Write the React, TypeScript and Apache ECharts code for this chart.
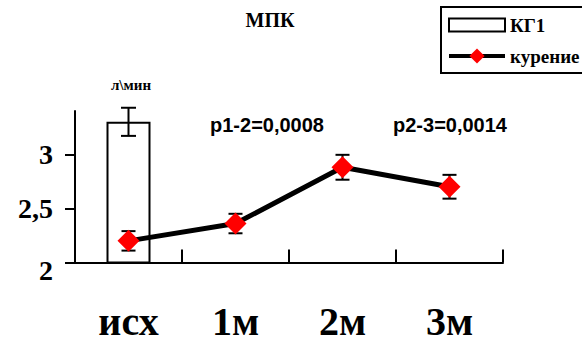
import React, { useEffect, useRef } from "react";
import * as echarts from "echarts";

const categories = ["исх", "1м", "2м", "3м"];
const kg1Values = [3.3, null, null, null];
const kg1Errors = [0.13, null, null, null];
const smokingValues = [2.2, 2.36, 2.88, 2.7];
const smokingErrors = [0.09, 0.09, 0.115, 0.11];
const yTicks = [2, 2.5, 3];
const yTickLabels = ["2", "2,5", "3"];
const seriesNames = ["КГ1", "курение"];
const pTexts = ["p1-2=0,0008", "p2-3=0,0014"];

const SERIF = "'Liberation Serif', 'Times New Roman', serif";
const SANS = "'Liberation Sans', Arial, sans-serif";

export default function App() {
  const ref = useRef<HTMLDivElement>(null);
  useEffect(() => {
    if (!ref.current) return;
    const chart = echarts.init(ref.current, undefined, { renderer: "svg" });

    const errRows: number[][] = [];
    kg1Values.forEach((v, i) => {
      if (v != null && kg1Errors[i] != null) errRows.push([i, v - (kg1Errors[i] as number), v + (kg1Errors[i] as number), 7.5]);
    });
    smokingValues.forEach((v, i) => {
      errRows.push([i, v - smokingErrors[i], v + smokingErrors[i], 7]);
    });

    chart.setOption({
      animation: false,
      backgroundColor: "#fff",
      grid: { left: 75, right: 79, top: 111, bottom: 80.5, containLabel: false },
      legend: {
        orient: "vertical",
        left: 440,
        top: 7,
        padding: [7.5, 5, 9, 7],
        itemGap: 11,
        itemWidth: 56,
        itemHeight: 19,
        textStyle: { fontFamily: SERIF, fontWeight: "bold", fontSize: 19, color: "#000" },
        data: [
          { name: seriesNames[0], icon: "path://M0,0L0,0M0,3L56,3L56,16L0,16ZM0,19L0,19" },
          { name: seriesNames[1], lineStyle: { width: 4, color: "#000" } },
        ],
      },
      xAxis: {
        type: "category",
        data: categories,
        boundaryGap: true,
        axisLine: { lineStyle: { color: "#000", width: 2 } },
        axisTick: { show: true, inside: true, length: 13, interval: 0, lineStyle: { color: "#000", width: 2 } },
        axisLabel: { margin: 39, fontFamily: SERIF, fontWeight: "bold", fontSize: 40, color: "#000", interval: 0 },
        splitLine: { show: false },
      },
      yAxis: {
        type: "value",
        min: 2,
        max: 3.4,
        interval: 0.5,
        axisLine: { show: true, lineStyle: { color: "#000", width: 2 } },
        axisTick: { show: true, length: 10, customValues: yTicks, lineStyle: { color: "#000", width: 2 } },
        axisLabel: {
          customValues: yTicks,
          margin: 22,
          fontFamily: SERIF,
          fontWeight: "bold",
          fontSize: 28,
          color: "#000",
          formatter: (v: number) => {
            const idx = yTicks.indexOf(v);
            const t = idx >= 0 ? yTickLabels[idx] : "";
            return idx === 0 ? "{low|" + t + "}" : t;
          },
          rich: {
            low: { fontFamily: SERIF, fontWeight: "bold", fontSize: 28, color: "#000", padding: [16, 0, 0, 0] },
          },
        },
        splitLine: { show: false },
      },
      graphic: [
        { type: "polyline", shape: { points: [[700, 7], [441, 7], [441, 73], [700, 73]] }, style: { fill: "none", stroke: "#000", lineWidth: 2 }, z: 10 },
        { type: "text", x: 270, y: 19.5, style: { text: "МПК", font: "bold 20px " + SERIF, fill: "#000", align: "center", verticalAlign: "middle" } },
        { type: "text", x: 131, y: 85, style: { text: "л\\мин", font: "bold 15px " + SERIF, fill: "#000", align: "center", verticalAlign: "middle" } },
        { type: "text", x: 267, y: 125, style: { text: pTexts[0], font: "bold 20px " + SANS, fill: "#000", align: "center", verticalAlign: "middle" } },
        { type: "text", x: 450, y: 125, style: { text: pTexts[1], font: "bold 20px " + SANS, fill: "#000", align: "center", verticalAlign: "middle" } },
      ],
      series: [
        {
          name: seriesNames[0],
          type: "bar",
          data: kg1Values.map((v) => (v == null ? "-" : v)),
          barWidth: 44,
          z: 1,
          itemStyle: { color: "#fff", borderColor: "#000", borderWidth: 2 },
        },
        {
          name: "err",
          type: "custom",
          z: 2,
          data: errRows,
          encode: { x: 0, y: [1, 2] },
          renderItem: (params: any, api: any) => {
            const x = api.value(0);
            const lo = api.coord([x, api.value(1)]);
            const hi = api.coord([x, api.value(2)]);
            const hw = api.value(3);
            const st = { stroke: "#000", lineWidth: 2 };
            return {
              type: "group",
              children: [
                { type: "line", shape: { x1: hi[0], y1: hi[1], x2: lo[0], y2: lo[1] }, style: st },
                { type: "line", shape: { x1: hi[0] - hw, y1: hi[1], x2: hi[0] + hw, y2: hi[1] }, style: st },
                { type: "line", shape: { x1: lo[0] - hw, y1: lo[1], x2: lo[0] + hw, y2: lo[1] }, style: st },
              ],
            };
          },
        },
        {
          name: seriesNames[1],
          type: "line",
          data: smokingValues,
          z: 3,
          symbol: "diamond",
          symbolSize: 22,
          lineStyle: { color: "#000", width: 5 },
          itemStyle: { color: "#ff0000" },
          color: "#ff0000",
        },
      ],
    });
    return () => chart.dispose();
  }, []);
  return <div ref={ref} style={{ position: "fixed", left: 0, top: 0, width: 582, height: 343 }} />;
}
